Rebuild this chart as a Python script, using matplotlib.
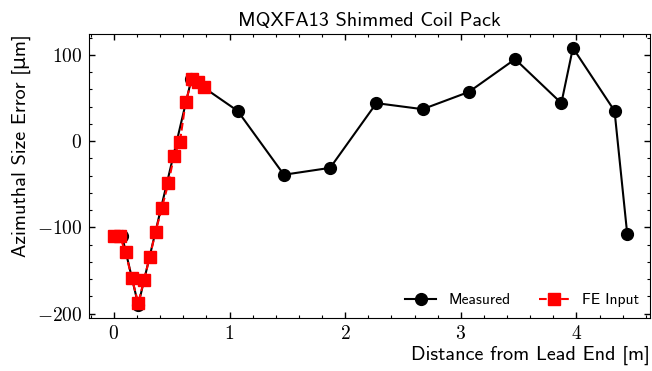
import matplotlib
matplotlib.use('Agg')
import matplotlib.pyplot as plt
from matplotlib.ticker import MultipleLocator, FuncFormatter

# measured azimuthal size error
meas_x = [0.07, 0.21, 0.67, 1.07, 1.47, 1.87, 2.27, 2.67, 3.07, 3.47, 3.87, 3.97, 4.33, 4.44]
meas_y = [-110, -190, 72, 35, -39, -31, 44, 37, 57, 95, 44, 108, 35, -108]

# FE input
fe_x = [0.0, 0.05, 0.10, 0.155, 0.21, 0.26, 0.31, 0.36, 0.415, 0.47, 0.52, 0.57, 0.62, 0.675, 0.73, 0.78]
fe_y = [-110, -110, -129, -159, -188, -161, -134, -105, -77, -49, -17, -1, 45, 72, 68, 63]

plt.rcParams['font.family'] = ['cmss10', 'DejaVu Sans']
plt.rcParams['mathtext.fontset'] = 'cm'
plt.rcParams['axes.unicode_minus'] = False

fig = plt.figure(figsize=(6.52, 3.71), dpi=100)
ax = fig.add_axes([0.1365, 0.143, 0.861, 0.765])

ax.plot(meas_x, meas_y, 'k-o', lw=1.5, ms=8.5, label='Measured')
ax.plot(fe_x, fe_y, 'r--s', lw=1.5, ms=8, label='FE Input')

ax.set_xlim(-0.216, 4.64)
ax.set_ylim(-205, 124)
ax.xaxis.set_major_locator(MultipleLocator(1))
ax.xaxis.set_minor_locator(MultipleLocator(0.2))
ax.yaxis.set_major_locator(MultipleLocator(100))
ax.yaxis.set_minor_locator(MultipleLocator(20))
fmt = FuncFormatter(lambda v, p: '$%g$' % v)
ax.xaxis.set_major_formatter(fmt)
ax.yaxis.set_major_formatter(fmt)
ax.tick_params(which='both', direction='in', top=True, right=True, labelsize=14)
ax.tick_params(which='major', length=4, width=1, pad=5)
ax.tick_params(which='minor', length=2, width=0.8)

ax.set_title('MQXFA13 Shimmed Coil Pack', fontsize=14.5)
ax.set_xlabel('Distance from Lead End [m]', fontsize=14.5, loc='right', labelpad=2)
ax.set_ylabel('Azimuthal Size Error [μm]', fontsize=14.5, loc='top', labelpad=4)
ax.legend(loc='lower right', ncol=2, frameon=False, fontsize=11.2,
          handlelength=2, columnspacing=1.8, borderaxespad=0.3)

plt.savefig('out.png', dpi=100)
